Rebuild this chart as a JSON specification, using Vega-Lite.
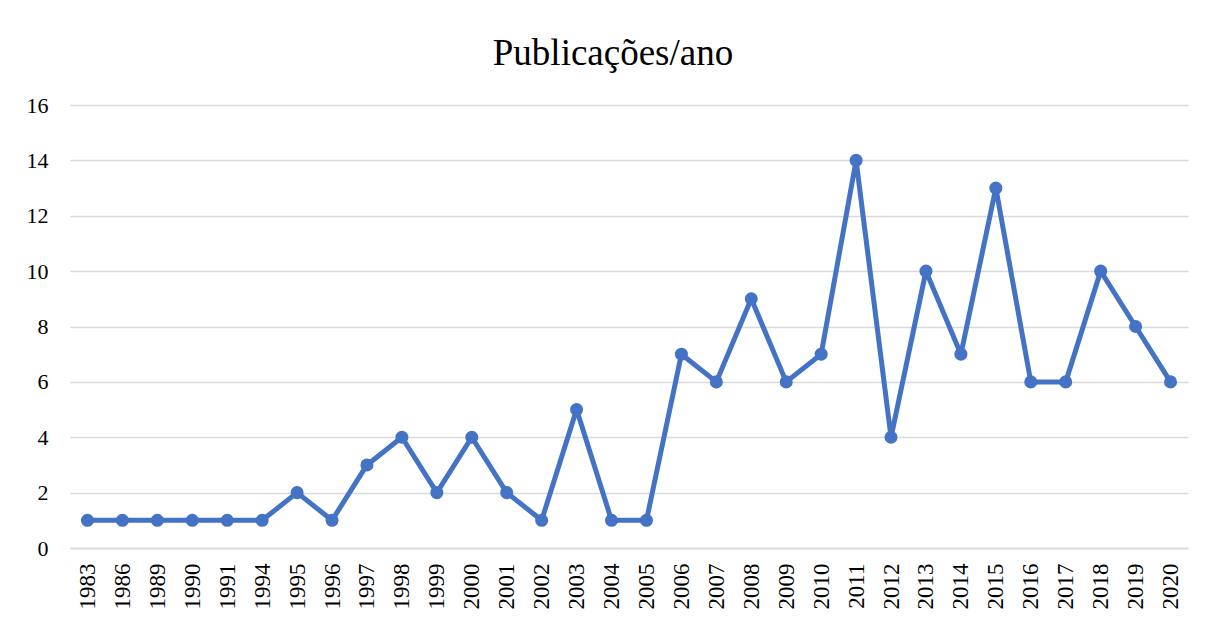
{
  "$schema": "https://vega.github.io/schema/vega-lite/v6.json",
  "autosize": "none",
  "width": 1118,
  "height": 443,
  "padding": {"left": 70, "top": 105, "right": 17, "bottom": 71},
  "background": "white",
  "title": {"text": "Publicações/ano", "font": "Liberation Serif", "fontSize": 37, "fontWeight": "normal", "color": "#000000", "anchor": "middle", "offset": 21, "dx": -16},
  "config": {"view": {"stroke": null}},
  "data": {"values": [
    {"ano": "1983", "n": 1}, {"ano": "1986", "n": 1}, {"ano": "1989", "n": 1}, {"ano": "1990", "n": 1},
    {"ano": "1991", "n": 1}, {"ano": "1994", "n": 1}, {"ano": "1995", "n": 2}, {"ano": "1996", "n": 1},
    {"ano": "1997", "n": 3}, {"ano": "1998", "n": 4}, {"ano": "1999", "n": 2}, {"ano": "2000", "n": 4},
    {"ano": "2001", "n": 2}, {"ano": "2002", "n": 1}, {"ano": "2003", "n": 5}, {"ano": "2004", "n": 1},
    {"ano": "2005", "n": 1}, {"ano": "2006", "n": 7}, {"ano": "2007", "n": 6}, {"ano": "2008", "n": 9},
    {"ano": "2009", "n": 6}, {"ano": "2010", "n": 7}, {"ano": "2011", "n": 14}, {"ano": "2012", "n": 4},
    {"ano": "2013", "n": 10}, {"ano": "2014", "n": 7}, {"ano": "2015", "n": 13}, {"ano": "2016", "n": 6},
    {"ano": "2017", "n": 6}, {"ano": "2018", "n": 10}, {"ano": "2019", "n": 8}, {"ano": "2020", "n": 6}
  ]},
  "encoding": {
    "x": {"field": "ano", "type": "ordinal", "sort": null, "scale": {"type": "point", "padding": 0.5},
      "axis": {"title": null, "labelAngle": -90, "labelAlign": "right", "labelBaseline": "middle", "labelFont": "Liberation Serif", "labelFontSize": 23, "labelColor": "#000000", "labelPadding": 15, "ticks": false, "domain": true, "domainColor": "#d9d9d9", "domainWidth": 1.5, "grid": false}},
    "y": {"field": "n", "type": "quantitative", "scale": {"domain": [0, 16], "nice": false},
      "axis": {"title": null, "values": [0, 2, 4, 6, 8, 10, 12, 14, 16], "labelFont": "Liberation Serif", "labelFontSize": 22, "labelColor": "#000000", "labelPadding": 22, "ticks": false, "domain": false, "grid": true, "gridColor": "#d9d9d9", "gridWidth": 1.5}}
  },
  "layer": [
    {"mark": {"type": "line", "color": "#4472C4", "strokeWidth": 5, "strokeJoin": "round"}},
    {"mark": {"type": "point", "filled": true, "shape": "circle", "size": 170, "color": "#4472C4", "opacity": 1}}
  ]
}
